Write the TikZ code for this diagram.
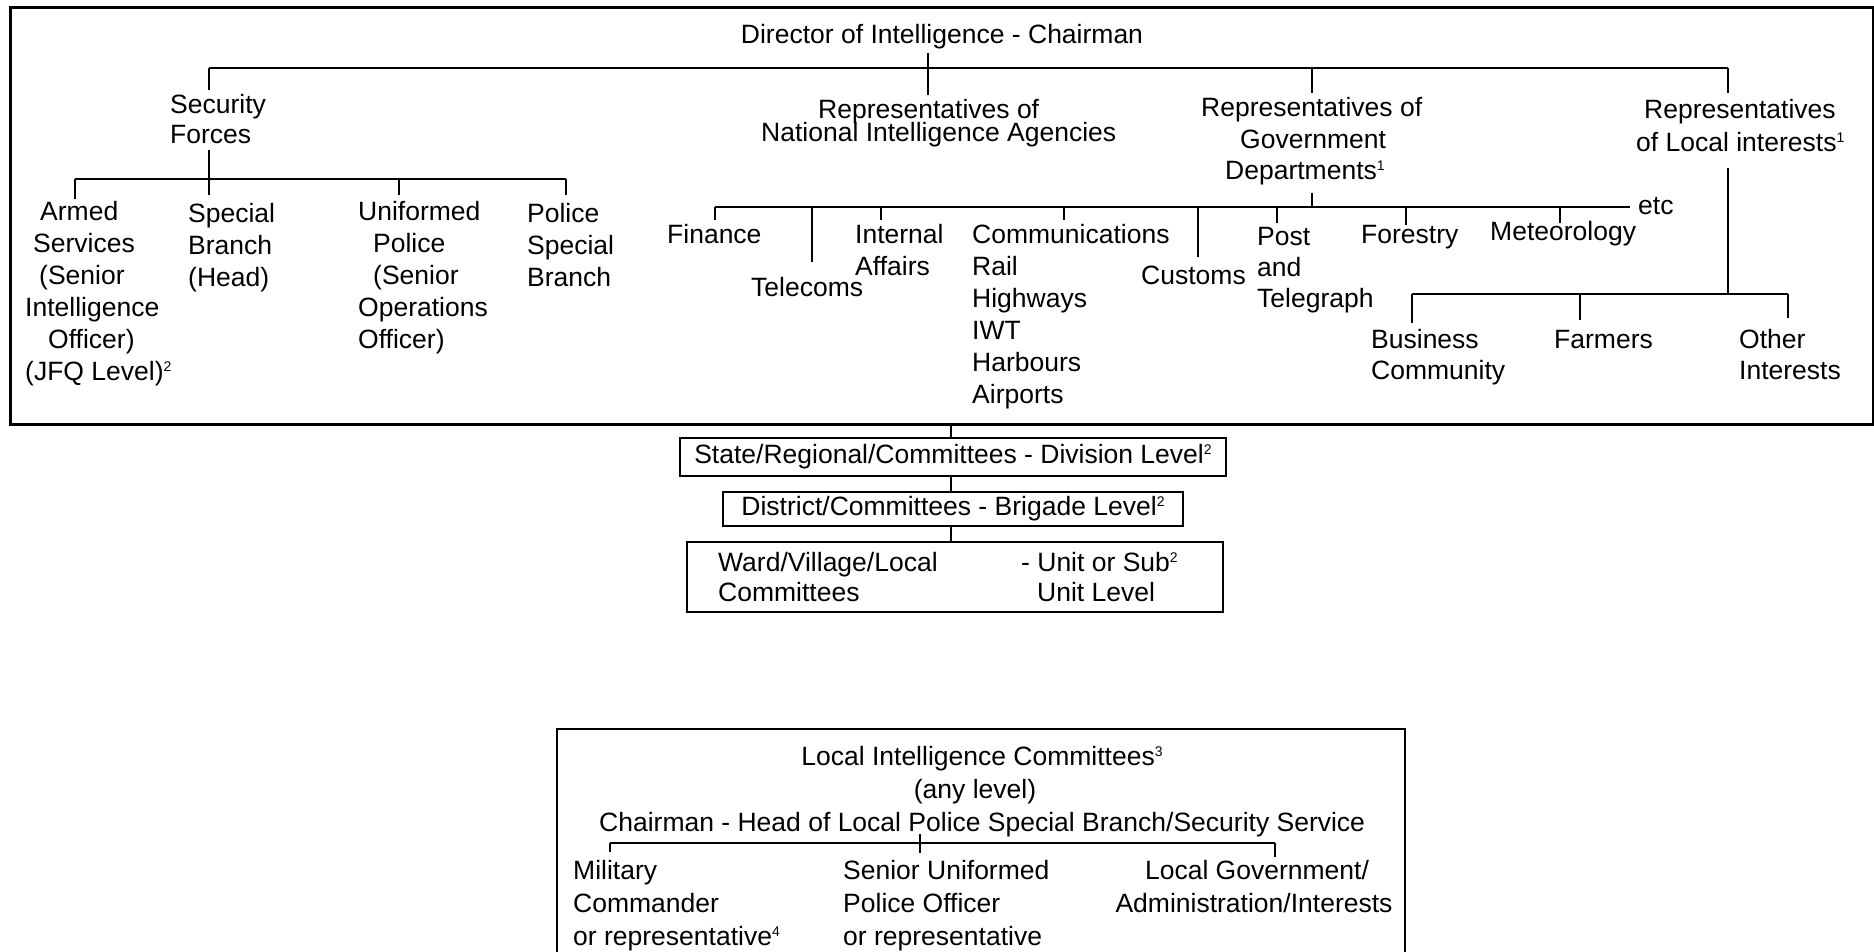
\documentclass[tikz,border=0pt]{standalone}
\usepackage{fontspec}
\setmainfont{Liberation Sans}
\newcommand\fs{\fontsize{26.5}{32}\selectfont}
\newcommand\ts{\rule{0pt}{22pt}}
\newcommand\sps[1]{\raisebox{9pt}{\fontsize{14}{14}\selectfont #1}}
\begin{document}
\begin{tikzpicture}[x=1pt,y=-1pt,line width=2.4pt,
  txt/.style={inner sep=0pt,font=\fs,align=left,anchor=north west},
  ctxt/.style={inner sep=0pt,font=\fs,align=center,anchor=north},
  lvlbox/.style={draw,line width=2.4pt,inner sep=0pt,font=\fs},
  frame/.style={draw,line width=2.8pt,inner sep=0pt,anchor=north west},
  thin/.style={line width=2pt}]
\clip (0,0) rectangle (1874,952);
\fill[white] (0,0) rectangle (1874,952);

% ---------- upper frame ----------
\node[frame,minimum width=1863,minimum height=417] (top) at (9,6) {};

\node[ctxt] (dir) at (942,20) {\ts Director of Intelligence - Chairman};
\node[txt] (sec) at (169,90) {\ts Security\\[-2pt]Forces};
\node[txt] (nia) at (760,95) {\ts\hspace*{57pt}Representatives of\\[-9pt]National Intelligence Agencies};
\node[txt] (gov) at (1200,93) {\ts Representatives of\\\hspace*{39pt}Government\\[-1pt]\hspace*{24pt}Departments\sps{1}};
\node[txt] (loc) at (1635,95) {\ts\hspace*{8pt}Representatives\\[1pt]of Local interests\sps{1}};

% security forces
\node[txt] (arm) at (24,197) {\ts\hspace*{15pt}Armed\\\hspace*{8pt}Services\\\hspace*{14pt}(Senior\\Intelligence\\\hspace*{23pt}Officer)\\(JFQ Level)\sps{2}};
\node[txt] (spb) at (187,199) {\ts Special\\Branch\\(Head)};
\node[txt] (uni) at (357,197) {\ts Uniformed\\\hspace*{15pt}Police\\\hspace*{15pt}(Senior\\Operations\\Officer)};
\node[txt] (psb) at (526,199) {\ts Police\\Special\\Branch};

% government departments
\node[txt] (fin) at (666,220) {\ts Finance};
\node[txt] (tel) at (750,273) {\ts Telecoms};
\node[txt] (iaf) at (854,220) {\ts Internal\\Affairs};
\node[txt] (com) at (971,220) {\ts Communications\\Rail\\Highways\\IWT\\Harbours\\Airports};
\node[txt] (cus) at (1140,261) {\ts Customs};
\node[txt] (pat) at (1256,222) {\ts Post\\[-1pt]and\\[-1pt]Telegraph};
\node[txt] (fst) at (1360,220) {\ts Forestry};
\node[txt] (met) at (1489,217) {\ts Meteorology};
\node[txt] (etc) at (1637,191) {\ts etc};

% local interests
\node[txt] (bus) at (1370,325) {\ts Business\\[-1pt]Community};
\node[txt] (far) at (1553,325) {\ts Farmers};
\node[txt] (oth) at (1738,325) {\ts Other\\[-1pt]Interests};

% top connectors
\coordinate (dirS) at (928,53);
\coordinate (niaN) at (928,95);
\coordinate (barL) at (209,68);
\coordinate (barR) at (1728,68);
\coordinate (secN) at (209,90);
\coordinate (govN) at (1312,93);
\coordinate (locN) at (1728,93);
\draw (barL) -- (barR);
\draw (dirS) -- (niaN);
\draw (barL) -- (secN);
\draw (govN |- barL) -- (govN);
\draw (barR) -- (locN);

% security connectors
\coordinate (secS) at (209,150);
\coordinate (sbarL) at (75,179);
\coordinate (sbarR) at (566,179);
\coordinate (spbN) at (209,195);
\coordinate (armN) at (75,199);
\coordinate (uniN) at (399,195);
\coordinate (psbN) at (566,195);
\draw (sbarL) -- (sbarR);
\draw (secS) -- (spbN);
\draw (sbarL) -- (armN);
\draw (uniN |- sbarL) -- (uniN);
\draw (sbarR) -- (psbN);

% government connectors
\coordinate (govS) at (1312,193);
\coordinate (gbarL) at (715,207);
\coordinate (gbarR) at (1630,207);
\draw (govS) -- (govS |- gbarL);
\draw (gbarL) -- (gbarR);
\foreach \n/\x/\y in {finN/715/220,telN/812/262,iafN/881/220,comN/1064/220,cusN/1198/257,patN/1277/223,fstN/1406/225,metN/1560/223}{
  \coordinate (\n) at (\x,\y);
  \draw (\n |- gbarL) -- (\n);
}

% local connectors
\coordinate (locS) at (1728,168);
\coordinate (lbarL) at (1412,294);
\coordinate (lbarR) at (1788,294);
\coordinate (busN) at (1412,323);
\coordinate (farN) at (1580,320);
\coordinate (othN) at (1788,318);
\draw (locS) -- (locS |- lbarL);
\draw (lbarL) -- (lbarR);
\draw (lbarL) -- (busN);
\draw (farN |- lbarL) -- (farN);
\draw (lbarR) -- (othN);

% ---------- level chain ----------
\node[lvlbox,minimum width=546,minimum height=38] (st) at (953,457) {State/Regional/Committees - Division Level\sps{2}};
\node[lvlbox,minimum width=460,minimum height=34] (di) at (953,509) {District/Committees - Brigade Level\sps{2}};
\node[lvlbox,minimum width=536,minimum height=70] (wa) at (955,577) {};
\node[txt] (waL) at (717,548) {\ts Ward/Village/Local\\[-2pt]Committees};
\node[txt] (waR) at (1020,548) {\ts - Unit or Sub\sps{2}\\[-2pt]\hspace*{16pt}Unit Level};
\coordinate (ch) at (951,423);
\draw (ch) -- (ch |- st.north);
\draw (ch |- st.south) -- (ch |- di.north);
\draw (ch |- di.south) -- (ch |- wa.north);

% ---------- local intelligence committees ----------
\node[frame,line width=2.4pt,minimum width=848,minimum height=300] (lic) at (556,728) {};
\node[ctxt] (licT) at (982,742) {\ts Local Intelligence Committees\sps{3}};
\node[ctxt] (licA) at (975,775) {\ts (any level)};
\node[txt] (licC) at (598,808) {\ts Chairman - Head of Local Police Special Branch/Security Service};
\node[txt] (mil) at (572,856) {\ts Military\\[1pt]Commander\\[1pt]or representative\sps{4}};
\node[txt] (spo) at (842,856) {\ts Senior Uniformed\\[1pt]Police Officer\\[1pt]or representative};
\node[ctxt] (lgv) at (1254,856) {\ts \hspace*{6pt}Local Government/\\[1pt]Administration/Interests};
\coordinate (cbarL) at (610,843);
\coordinate (cbarR) at (1275,843);
\coordinate (ctkT) at (920,834);
\coordinate (ctkB) at (920,853);
\coordinate (milN) at (610,852);
\coordinate (lgvN) at (1275,857);
\draw[thin] (cbarL) -- (cbarR);
\draw[thin] (ctkT) -- (ctkB);
\draw[thin] (cbarL) -- (milN);
\draw[thin] (cbarR) -- (lgvN);
\end{tikzpicture}
\end{document}
